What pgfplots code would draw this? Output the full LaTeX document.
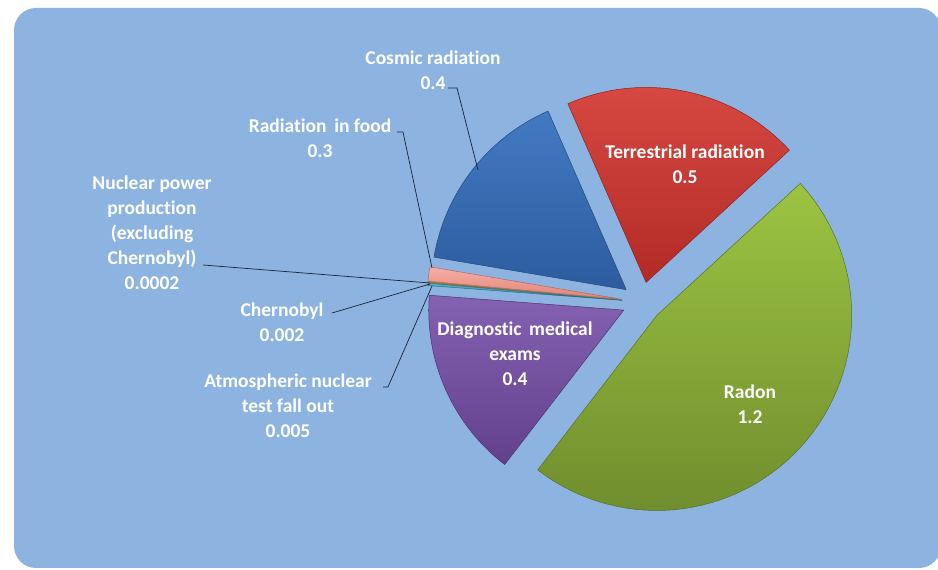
\documentclass[border=0pt]{standalone}
\usepackage{pgfplots}
\pgfplotsset{compat=1.18}
\usepackage{fontspec}
\setmainfont{Carlito}[Ligatures={NoCommon}]

\definecolor{panel}{RGB}{141,179,224}
\definecolor{leader}{RGB}{30,35,50}
\definecolor{terrT}{RGB}{214,72,66}\definecolor{terrB}{RGB}{178,42,38}
\definecolor{cosmT}{RGB}{66,122,194}\definecolor{cosmB}{RGB}{44,92,158}
\definecolor{foodT}{RGB}{246,176,166}\definecolor{foodB}{RGB}{226,130,120}
\definecolor{nuclT}{RGB}{120,190,120}\definecolor{nuclB}{RGB}{90,160,90}
\definecolor{cherT}{RGB}{247,160,80}\definecolor{cherB}{RGB}{220,120,50}
\definecolor{atmoT}{RGB}{80,180,200}\definecolor{atmoB}{RGB}{50,140,170}
\definecolor{mediT}{RGB}{132,98,178}\definecolor{mediB}{RGB}{98,64,140}
\definecolor{radoT}{RGB}{156,196,66}\definecolor{radoB}{RGB}{112,142,46}

\newcommand\lbl{\fontsize{19.5}{25}\selectfont\bfseries}

% pie geometry: centre, radius, explode distance (axis units = pt)
\def\cx{642}\def\cy{268}\def\R{195}\def\dexp{20}
\def\total{2.5372}% sum of the values below
\xdef\curang{42.7}
\newcommand\mkslice[2]{%
  \pgfmathsetmacro\aone{\curang}%
  \pgfmathsetmacro\atwo{\curang+#2/\total*360}%
  \pgfmathsetmacro\amid{(\aone+\atwo)/2}%
  \pgfmathsetmacro\scx{\cx+\dexp*cos(\amid)}%
  \pgfmathsetmacro\scy{\cy+\dexp*sin(\amid)}%
  \xdef\pts{(\scx,\scy)}%
  \foreach \k in {0,...,60}{%
    \pgfmathsetmacro\angk{\aone+(\atwo-\aone)*\k/60}%
    \pgfmathsetmacro\px{\scx+\R*cos(\angk)}%
    \pgfmathsetmacro\py{\scy+\R*sin(\angk)}%
    \xdef\pts{\pts (\px,\py)}}%
  \xdef\pts{\pts (\scx,\scy)}%
  \expandafter\xdef\csname pts#1\endcsname{\pts}%
  \xdef\curang{\atwo}}
\mkslice{terr}{0.5}
\mkslice{cosm}{0.4}
\mkslice{food}{0.03}
\mkslice{nucl}{0.0002}
\mkslice{cher}{0.002}
\mkslice{atmo}{0.005}
\mkslice{medi}{0.4}
\mkslice{rado}{1.2}
\newcommand\drawslice[1]{%
  \edef\cmd{\noexpand\addplot[draw=#1B!80!black, line width=0.5pt,
    top color=#1T, bottom color=#1B] coordinates {\csname pts#1\endcsname};}\cmd}

\begin{document}
\begin{tikzpicture}
\fill[white] (0,0) rectangle (938pt,570pt);
\fill[panel, rounded corners=22pt] (14pt,2pt) rectangle (941pt,562pt);
\begin{axis}[
    at={(0,0)}, anchor=south west,
    scale only axis,
    width=938pt, height=570pt,
    xmin=0, xmax=938, ymin=0, ymax=570,
    hide axis,
    clip=false
]
\drawslice{terr}
\drawslice{cosm}
\drawslice{food}
\drawslice{nucl}
\drawslice{cher}
\drawslice{atmo}
\drawslice{medi}
\drawslice{rado}

% leader lines
\draw[leader, line width=0.7pt] (axis cs:448,482) -- (axis cs:457,482) -- (axis cs:478,400);
\draw[leader, line width=0.7pt] (axis cs:397,438) -- (axis cs:403,438) -- (axis cs:432,302);
\draw[leader, line width=0.7pt] (axis cs:203,305) -- (axis cs:430,287);
\draw[leader, line width=0.7pt] (axis cs:332,257) -- (axis cs:430,286);
\draw[leader, line width=0.7pt] (axis cs:383,183) -- (axis cs:388,183) -- (axis cs:432,284);

% labels
\begin{scope}[every node/.style={text=white, font=\lbl, align=center, inner sep=0pt}]
\node at (axis cs:685,406) {Terrestrial radiation\\0.5};
\node at (axis cs:515,216) {Diagnostic\, medical\\exams\\0.4};
\node at (axis cs:750,166) {Radon\\1.2};
\node at (axis cs:433,500) {Cosmic radiation\\0.4};
\node at (axis cs:320,432) {Radiation\, in food\\0.3};
\node at (axis cs:152,337) {Nuclear power\\production\\(excluding\\Chernobyl)\\0.0002};
\node at (axis cs:282,248) {Chernobyl\\0.002};
\node at (axis cs:288,164) {Atmospheric nuclear\\test fall out\\0.005};
\end{scope}
\end{axis}
\pgfresetboundingbox
\path[use as bounding box] (0,0) rectangle (938pt,570pt);
\end{tikzpicture}
\end{document}
